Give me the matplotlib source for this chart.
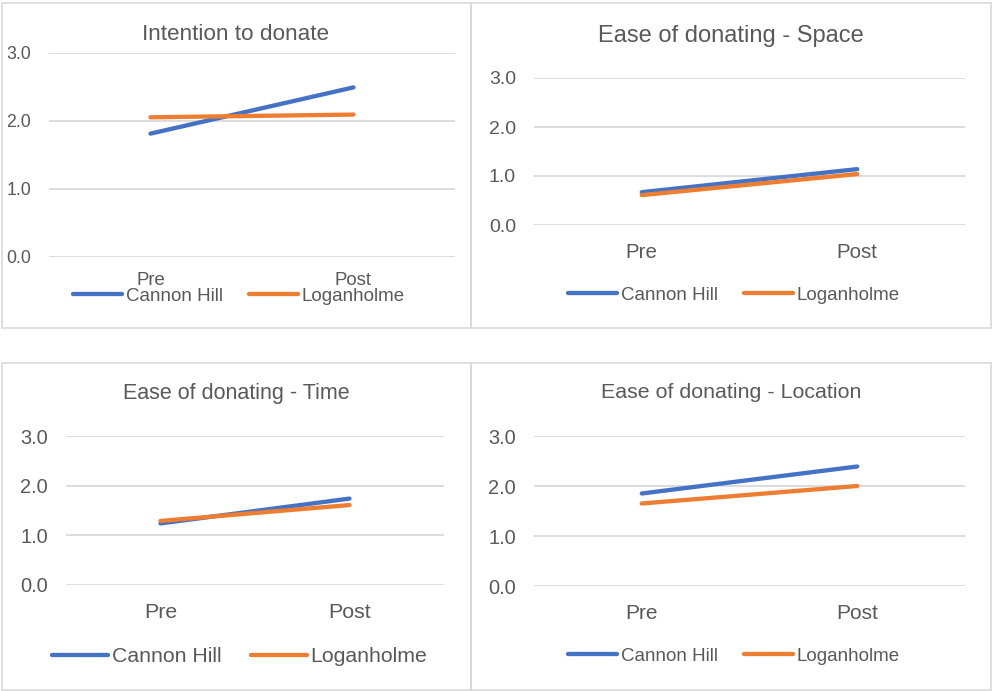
import matplotlib
matplotlib.use("Agg")
import matplotlib.pyplot as plt
from matplotlib.patches import Rectangle

plt.rcParams['font.family'] = ['Liberation Sans', 'DejaVu Sans']

# データ
categories = ['Pre', 'Post']
series_names = ['Cannon Hill', 'Loganholme']
titles = ['Intention to donate', 'Ease of donating - Space',
          'Ease of donating - Time', 'Ease of donating - Location']
cannon_hill = [[1.81, 2.49], [0.67, 1.14], [1.24, 1.74], [1.85, 2.39]]
loganholme = [[2.05, 2.09], [0.61, 1.04], [1.29, 1.61], [1.65, 2.00]]
yticks = [0.0, 1.0, 2.0, 3.0]

BLUE = '#4472C4'
ORANGE = '#ED7D31'
GRID = '#D9D9D9'
TEXT = '#595959'

W, H = 998, 691
fig = plt.figure(figsize=(W / 100, H / 100), dpi=100)

# パネル配置 (ピクセル): 枠, グリッド範囲, タイトル位置, 凡例位置, フォントサイズ
panels = [
    dict(box=(2, 3, 471, 328), grid=(49, 455, 52.7, 256.7), title=(236, 34),
         legend=(239, 296), fs=(16.2, 12.8, 13.4, 13.5), cat_pad=11),
    dict(box=(471, 3, 991, 328), grid=(534, 965, 78, 225), title=(731, 36),
         legend=(734, 295), fs=(17, 14, 14.8, 13.5), cat_pad=13),
    dict(box=(2, 363, 471, 690), grid=(66, 444, 436, 585), title=(236, 393),
         legend=(240, 657), fs=(15.5, 14.4, 15.4, 15.3), cat_pad=13),
    dict(box=(471, 363, 991, 690), grid=(534, 965, 436, 586), title=(731, 393),
         legend=(734, 656), fs=(15.4, 14.4, 15, 13.5), cat_pad=13),
]

for i, p in enumerate(panels):
    x0, y0, x1, y1 = p['box']
    fig.patches.append(Rectangle((x0 / W, 1 - y1 / H), (x1 - x0) / W, (y1 - y0) / H,
                                 transform=fig.transFigure, fill=False,
                                 edgecolor=GRID, linewidth=1.2))

    gl, gr, gt, gb = p['grid']
    ax = fig.add_axes([gl / W, 1 - gb / H, (gr - gl) / W, (gb - gt) / H])
    fs_title, fs_tick, fs_cat, fs_leg = p['fs']

    xs = range(len(categories))
    ax.plot(xs, cannon_hill[i], color=BLUE, lw=3.1, solid_capstyle='round',
            label=series_names[0], zorder=3)
    ax.plot(xs, loganholme[i], color=ORANGE, lw=3.1, solid_capstyle='round',
            label=series_names[1], zorder=3)

    ax.set_xlim(-0.5, 1.5)
    ax.set_ylim(0, 3)
    ax.set_yticks(yticks)
    ax.set_yticklabels([f'{v:.1f}' for v in yticks], fontsize=fs_tick, color=TEXT)
    ax.set_xticks(list(xs))
    ax.set_xticklabels(categories, fontsize=fs_cat, color=TEXT)
    ax.tick_params(axis='y', length=0, pad=13)
    ax.tick_params(axis='x', length=0, pad=p['cat_pad'])
    ax.yaxis.grid(True, color=GRID, lw=1.3)
    ax.set_axisbelow(True)
    for s in ax.spines.values():
        s.set_visible(False)
    ax.patch.set_alpha(0)

    tx, ty = p['title']
    fig.text(tx / W, 1 - ty / H, titles[i], ha='center', va='center',
             fontsize=fs_title, color=TEXT)

    lx, ly = p['legend']
    ax.legend(loc='center', bbox_to_anchor=(lx / W, 1 - ly / H),
              bbox_transform=fig.transFigure, ncol=2, frameon=False,
              fontsize=fs_leg, labelcolor=TEXT, handlelength=2.6,
              handletextpad=0.2, columnspacing=1.4, borderpad=0)

fig.savefig('out.png', dpi=100, facecolor='white')
